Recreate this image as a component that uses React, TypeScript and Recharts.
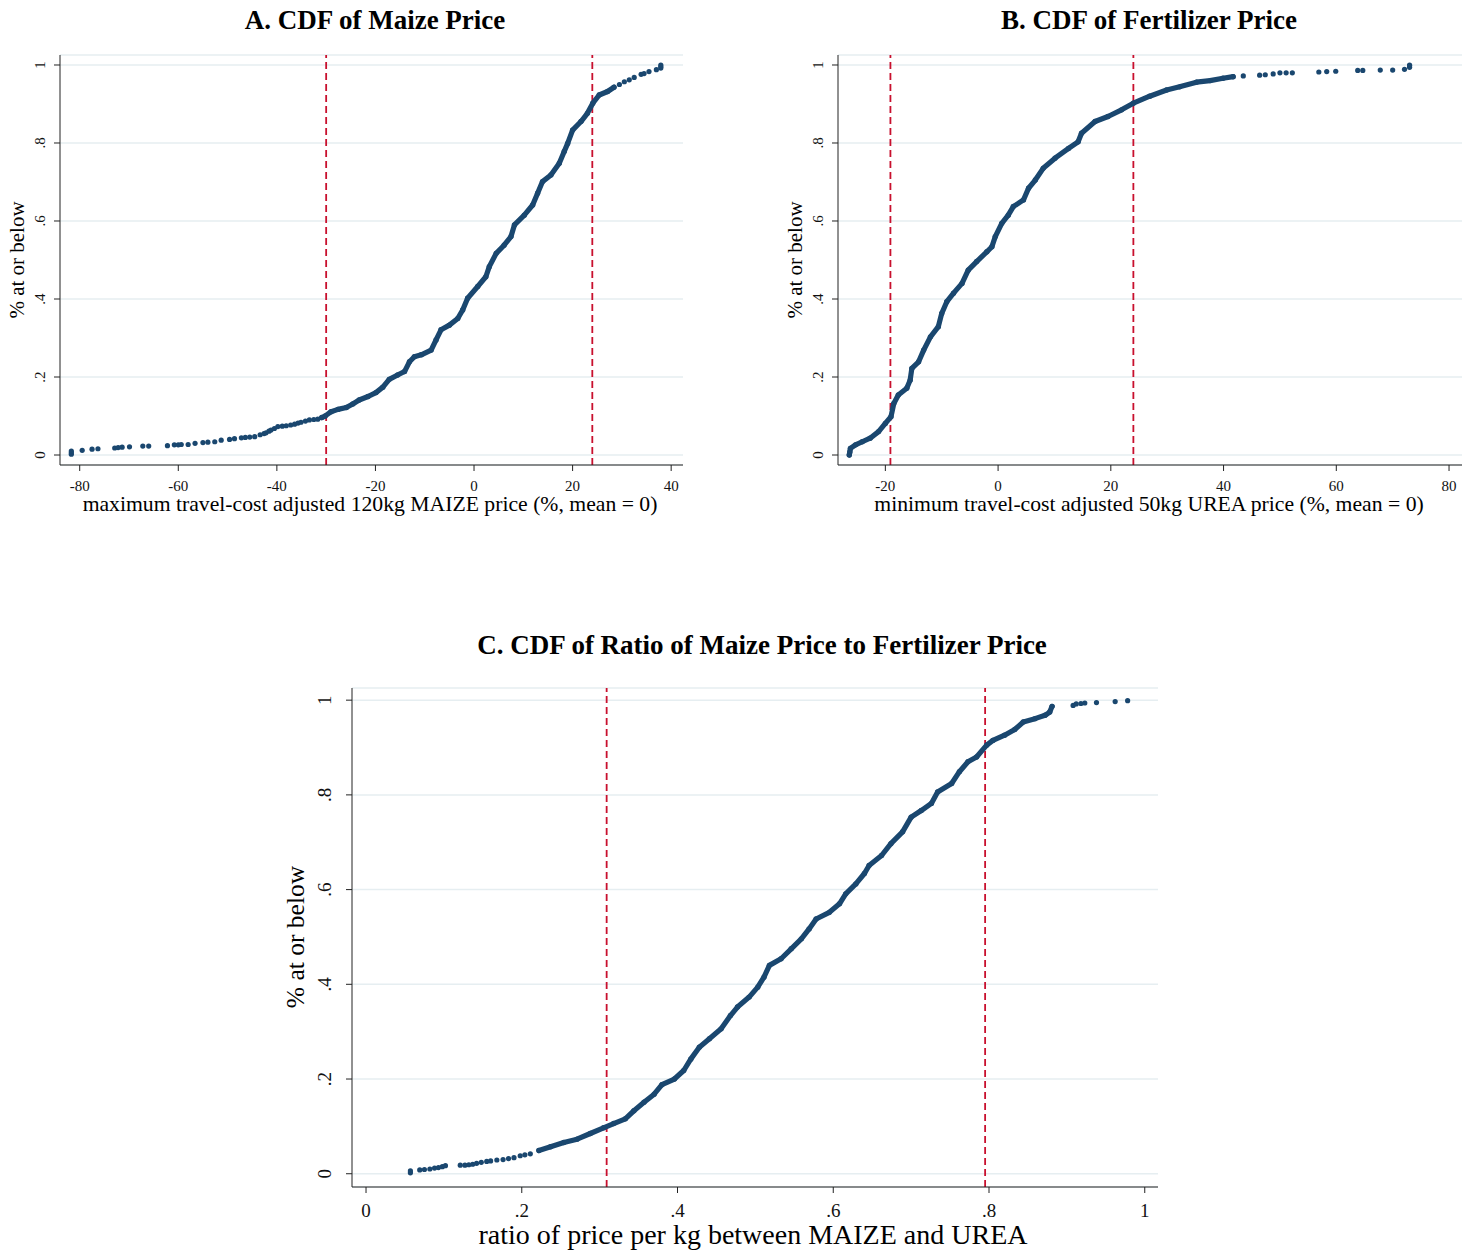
import React from 'react';
import { ScatterChart, Scatter, XAxis, YAxis, CartesianGrid, ReferenceLine } from 'recharts';

const SERIF = "'Liberation Serif', 'Times New Roman', serif";
const NAVY = '#1a476f';
const RED = '#c8102e';
const GRID = '#e6eef1';

// ---- data: [x, share at or below] ----

// A. maize price
const maizeLowTail: [number, number][] = [
  [-81.7, 0.002], [-81.7, 0.006], [-81.7, 0.01], [-79.5, 0.012], [-77.5, 0.015], [-76.3, 0.016],
  [-72.9, 0.018], [-72.2, 0.019], [-71.4, 0.02], [-69.9, 0.021], [-67.2, 0.023], [-66, 0.023],
  [-62.2, 0.024], [-60.8, 0.026], [-60, 0.026], [-59.4, 0.027], [-58, 0.027], [-56.6, 0.03],
  [-55, 0.032], [-54, 0.033], [-52.6, 0.034], [-51.3, 0.038], [-49.6, 0.04], [-48.6, 0.042],
  [-47.2, 0.044], [-46.4, 0.045], [-45.5, 0.046], [-44.5, 0.047], [-43.4, 0.052], [-42.6, 0.055],
  [-42.2, 0.057], [-41.6, 0.061], [-41.2, 0.064], [-40.5, 0.068], [-39.8, 0.073], [-38.9, 0.074],
  [-38.1, 0.075], [-37.2, 0.077], [-36.4, 0.079], [-35.7, 0.082], [-35.1, 0.084], [-34.2, 0.087],
  [-33.4, 0.09], [-32.5, 0.091], [-31.7, 0.092],
];
const maizeBody: [number, number][] = [
  [-30.9, 0.096], [-30.2, 0.1], [-29, 0.111], [-27.6, 0.117], [-25.9, 0.122], [-24.6, 0.131],
  [-23.3, 0.141], [-21.5, 0.15], [-19.9, 0.16], [-18.5, 0.174], [-17.2, 0.194], [-15.5, 0.205],
  [-14.1, 0.214], [-13.1, 0.239], [-12.1, 0.252], [-10.7, 0.257], [-8.7, 0.269], [-7.7, 0.295],
  [-6.7, 0.321], [-5, 0.333], [-3.3, 0.35], [-2.3, 0.372], [-1.3, 0.402], [0.75, 0.432],
  [2.4, 0.457], [3.1, 0.483], [4.5, 0.517], [6.1, 0.538], [7.5, 0.56], [8.2, 0.59],
  [10.2, 0.615], [11.9, 0.641], [12.9, 0.671], [13.9, 0.701], [15.6, 0.718], [17.3, 0.748],
  [18.3, 0.778], [19, 0.799], [20, 0.833], [21.7, 0.855], [23, 0.876], [24.1, 0.902],
  [25.4, 0.923], [27.1, 0.932], [28.4, 0.943],
];
const maizeHighTail: [number, number][] = [
  [29.5, 0.95], [30.5, 0.957], [31.5, 0.962], [32.5, 0.968], [33.9, 0.976], [34.5, 0.978],
  [35.5, 0.983], [37, 0.988], [37.9, 0.992], [37.9, 0.996], [37.9, 1.0],
];

// B. fertilizer price
const ureaBody: [number, number][] = [
  [-26.4, 0.0], [-26.3, 0.008], [-26.2, 0.017], [-25.3, 0.026], [-24.1, 0.034], [-22.7, 0.043],
  [-21.2, 0.06], [-20, 0.081], [-19, 0.098], [-18.5, 0.132], [-17.7, 0.154], [-16.2, 0.171],
  [-15.6, 0.192], [-15.3, 0.222], [-14.1, 0.239], [-13.2, 0.269], [-12, 0.303], [-10.6, 0.329],
  [-10, 0.363], [-9.1, 0.393], [-7.9, 0.415], [-6.4, 0.44], [-5.3, 0.474], [-3.8, 0.496],
  [-2, 0.521], [-1.1, 0.534], [-0.5, 0.56], [0.65, 0.594], [1.8, 0.615], [2.7, 0.637],
  [4.5, 0.654], [5.4, 0.684], [6.6, 0.705], [8, 0.735], [10.1, 0.761], [12.5, 0.786],
  [14.2, 0.803], [14.8, 0.825], [17.2, 0.855], [19.5, 0.868], [21.9, 0.885], [24, 0.902],
  [26.9, 0.92], [29.9, 0.936], [32.2, 0.944], [35.2, 0.956], [37.6, 0.96], [39.9, 0.966],
  [41.7, 0.97],
];
const ureaHighTail: [number, number][] = [
  [43.5, 0.972], [46.4, 0.974], [47.4, 0.975], [48.8, 0.977], [50, 0.98], [51.1, 0.98],
  [52.2, 0.98], [56.9, 0.982], [58.3, 0.983], [59.9, 0.984], [63.8, 0.986], [64.7, 0.986],
  [67.8, 0.987], [70, 0.987], [72.1, 0.989], [73, 0.994], [73, 0.998], [73, 1.0],
];

// C. ratio maize / urea
const ratioLowTail: [number, number][] = [
  [0.057, 0.002], [0.057, 0.006], [0.069, 0.008], [0.075, 0.009], [0.082, 0.01], [0.088, 0.012],
  [0.093, 0.013], [0.098, 0.015], [0.102, 0.017], [0.121, 0.018], [0.127, 0.018], [0.132, 0.019],
  [0.137, 0.02], [0.142, 0.022], [0.148, 0.024], [0.155, 0.026], [0.16, 0.027], [0.168, 0.029],
  [0.176, 0.03], [0.183, 0.032], [0.19, 0.034], [0.198, 0.038], [0.204, 0.04], [0.211, 0.042],
];
const ratioBody: [number, number][] = [
  [0.222, 0.049], [0.237, 0.057], [0.254, 0.066], [0.271, 0.073], [0.288, 0.085], [0.305, 0.097],
  [0.318, 0.106], [0.333, 0.116], [0.344, 0.133], [0.357, 0.151], [0.37, 0.168], [0.38, 0.188],
  [0.396, 0.2], [0.408, 0.218], [0.417, 0.242], [0.428, 0.267], [0.441, 0.285], [0.456, 0.306],
  [0.468, 0.334], [0.477, 0.352], [0.492, 0.373], [0.503, 0.394], [0.511, 0.415], [0.518, 0.44],
  [0.533, 0.454], [0.546, 0.475], [0.559, 0.496], [0.569, 0.517], [0.578, 0.538], [0.595, 0.552],
  [0.608, 0.57], [0.616, 0.591], [0.629, 0.612], [0.64, 0.634], [0.646, 0.651], [0.662, 0.672],
  [0.674, 0.697], [0.689, 0.722], [0.7, 0.753], [0.713, 0.767], [0.726, 0.782], [0.734, 0.806],
  [0.752, 0.824], [0.762, 0.849], [0.773, 0.87], [0.784, 0.88], [0.797, 0.905], [0.805, 0.915],
  [0.82, 0.926], [0.833, 0.938], [0.844, 0.954], [0.859, 0.961], [0.872, 0.968], [0.878, 0.975],
  [0.881, 0.987],
];
const ratioHighTail: [number, number][] = [
  [0.908, 0.989], [0.912, 0.992], [0.918, 0.993], [0.923, 0.994], [0.938, 0.995], [0.962, 0.997],
  [0.978, 0.999],
];

const yTicks = [0, 0.2, 0.4, 0.6, 0.8, 1];
const maizeTicks = [-80, -60, -40, -20, 0, 20, 40];
const ureaTicks = [-20, 0, 20, 40, 60, 80];
const ratioTicks = [0, 0.2, 0.4, 0.6, 0.8, 1];

const toPts = (arr: [number, number][]) => arr.map(([x, y]) => ({ x, y }));

// stata style: .2 instead of 0.2
const fmt = (v: number) => (v === 0 || v === 1 ? String(v) : String(v).replace(/^(-?)0\./, '$1.'));

const dot = (r: number) => (p: any) => <circle cx={p.cx} cy={p.cy} r={r} fill={NAVY} />;

const RotTick = (props: any) => {
  const { x, y, payload, fs } = props;
  return (
    <text x={x} y={y} transform={`rotate(-90 ${x} ${y})`} textAnchor="middle" dominantBaseline="central"
      fontSize={fs} fontFamily={SERIF} fill="#111">
      {fmt(payload.value)}
    </text>
  );
};

const Txt = ({ x, y, size, bold, rotate, children }: any) => (
  <div style={{
    position: 'absolute', left: x, top: y,
    transform: `translate(-50%, -50%)${rotate ? ' rotate(-90deg)' : ''}`,
    fontFamily: SERIF, fontSize: size, fontWeight: bold ? 700 : 400,
    whiteSpace: 'nowrap', lineHeight: 1, color: '#000',
  }}>{children}</div>
);

function Panel(props: any) {
  const { left, top, width, height, margin, yw, xh, xDomain, yDomain, xTicks, refs, body, tails, fs, ytm, xtm } = props;
  return (
    <div style={{ position: 'absolute', left, top }}>
      <ScatterChart width={width} height={height} margin={margin}>
        <CartesianGrid vertical={false} stroke={GRID} strokeWidth={1.5} />
        <XAxis type="number" dataKey="x" domain={xDomain} ticks={xTicks} allowDataOverflow interval={0}
          height={xh} tickSize={6} tickMargin={xtm} tickFormatter={fmt}
          axisLine={{ stroke: '#222' }} tickLine={{ stroke: '#222' }}
          tick={{ fontSize: fs, fontFamily: SERIF, fill: '#111' }} />
        <YAxis type="number" dataKey="y" domain={yDomain} ticks={yTicks} allowDataOverflow interval={0}
          width={yw} tickSize={6} tickMargin={ytm}
          axisLine={{ stroke: '#222' }} tickLine={{ stroke: '#222' }}
          tick={<RotTick fs={fs} />} />
        {refs.map((r: number) => (
          <ReferenceLine key={r} x={r} stroke={RED} strokeWidth={1.8} strokeDasharray="7 4" />
        ))}
        {tails.map((t: [number, number][], i: number) => (
          <Scatter key={i} data={toPts(t)} shape={dot(2.6)} isAnimationActive={false} />
        ))}
        <Scatter data={toPts(body)} shape={dot(2.7)} isAnimationActive={false}
          line={{ stroke: NAVY, strokeWidth: 5.2, strokeLinejoin: 'round', strokeLinecap: 'round' }} />
      </ScatterChart>
    </div>
  );
}

export default function App() {
  return (
    <div style={{ position: 'absolute', left: 0, top: 0, width: 1471, height: 1252, background: '#fff' }}>
      <Txt x={375} y={20} size={27} bold>A. CDF of Maize Price</Txt>
      <Txt x={1149} y={20} size={27} bold>B. CDF of Fertilizer Price</Txt>
      <Txt x={762} y={645} size={27} bold>C. CDF of Ratio of Maize Price to Fertilizer Price</Txt>

      <Panel left={0} top={0} width={700} height={530} margin={{ top: 55, right: 17, bottom: 0, left: 0 }}
        yw={60} xh={65} xDomain={[-84, 42.4]} yDomain={[-0.0256, 1.0256]} xTicks={maizeTicks}
        refs={[-30, 24]} body={maizeBody} tails={[maizeLowTail, maizeHighTail]} fs={15} ytm={14} xtm={9} />
      <Panel left={778} top={0} width={693} height={530} margin={{ top: 55, right: 9, bottom: 0, left: 0 }}
        yw={60} xh={65} xDomain={[-28.4, 82.3]} yDomain={[-0.0256, 1.0256]} xTicks={ureaTicks}
        refs={[-19.1, 24]} body={ureaBody} tails={[ureaHighTail]} fs={15} ytm={14} xtm={9} />
      <Panel left={270} top={600} width={900} height={652} margin={{ top: 88, right: 12, bottom: 0, left: 0 }}
        yw={82} xh={65} xDomain={[-0.018, 1.017]} yDomain={[-0.028, 1.0257]} xTicks={ratioTicks}
        refs={[0.309, 0.795]} body={ratioBody} tails={[ratioLowTail, ratioHighTail]} fs={19} ytm={21} xtm={11} />

      <Txt x={17} y={260} size={21} rotate>% at or below</Txt>
      <Txt x={795} y={260} size={21} rotate>% at or below</Txt>
      <Txt x={296} y={937} size={25.5} rotate>% at or below</Txt>

      <Txt x={370} y={505} size={21.7}>maximum travel-cost adjusted 120kg MAIZE price (%, mean = 0)</Txt>
      <Txt x={1149} y={505} size={21.7}>minimum travel-cost adjusted 50kg UREA price (%, mean = 0)</Txt>
      <Txt x={753} y={1235} size={28}>ratio of price per kg between MAIZE and UREA</Txt>
    </div>
  );
}
